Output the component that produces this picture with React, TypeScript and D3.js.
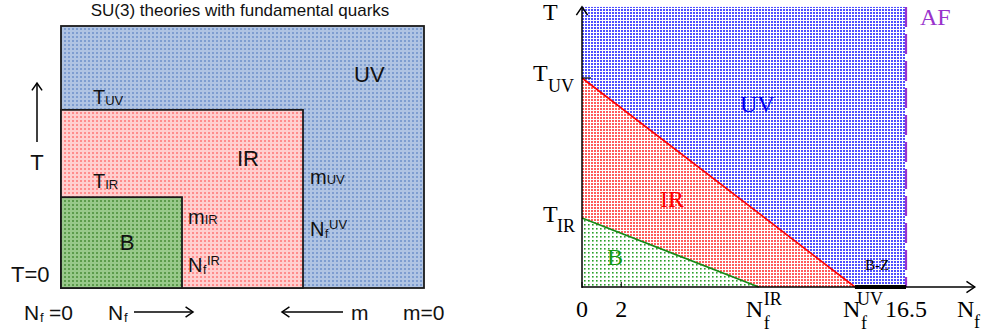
import React from 'react';
import * as d3 from 'd3';

// left schematic: nested regions (level in Nf / m direction and in T direction)
const leftRegions = ['UV', 'IR', 'B'];
const leftLevelsX = [3, 2, 1];
const leftLevelsY = [3, 2.04, 1.04];

// right phase diagram
const nfTicks = [0, 2];
const nfIR = 9;
const nfUV = 13.9;
const nfAF = 16.5;
const tUV = 1;
const tIR = 0.33;
const tTop = 1.34;
const nfEnd = 20;

const sans = '"Liberation Sans", Arial, sans-serif';
const serif = '"Liberation Serif", "Times New Roman", serif';

const leftFill: Record<string, string> = { UV: 'url(#pL-uv)', IR: 'url(#pL-ir)', B: 'url(#pL-b)' };

const Arrow = ({ x1, y1, x2, y2, size = 8 }: any) => {
    const a = Math.atan2(y2 - y1, x2 - x1);
    const p1 = [x2 - size * Math.cos(a - 0.6), y2 - size * Math.sin(a - 0.6)];
    const p2 = [x2 - size * Math.cos(a + 0.6), y2 - size * Math.sin(a + 0.6)];
    return (
        <g stroke="#000" strokeWidth={1.5} fill="none">
            <line x1={x1} y1={y1} x2={x2} y2={y2} />
            <path d={`M${p1[0]},${p1[1]}L${x2},${y2}L${p2[0]},${p2[1]}`} />
        </g>
    );
};

const App = () => {
    // left panel scales
    const xL = d3.scaleLinear().domain([0, 3]).range([61, 424]);
    const yL = d3.scaleLinear().domain([0, 3]).range([288, 26]);

    // right panel scales
    const x = d3.scaleLinear().domain([0, nfAF]).range([582, 906]);
    const y = d3.scaleLinear().domain([0, tUV]).range([287, 78]);

    const redTri = d3.line()([[x(0), y(0)], [x(0), y(tUV)], [x(nfUV), y(0)]]) + 'Z';
    const greenTri = d3.line()([[x(0), y(0)], [x(0), y(tIR)], [x(nfIR), y(0)]]) + 'Z';

    return (
        <svg width={984} height={334} style={{ position: 'absolute', left: 0, top: 0, background: '#fff' }}>
            <defs>
                <pattern id="pL-uv" width={4} height={4} patternUnits="userSpaceOnUse">
                    <rect width={4} height={4} fill="#b0c4e3" />
                    <rect width={2} height={2} fill="#7e9dd0" />
                </pattern>
                <pattern id="pL-ir" width={4} height={4} patternUnits="userSpaceOnUse">
                    <rect width={4} height={4} fill="#ffcfcf" />
                    <rect width={2} height={2} fill="#ff8c8c" />
                </pattern>
                <pattern id="pL-b" width={4} height={4} patternUnits="userSpaceOnUse">
                    <rect width={4} height={4} fill="#98c98a" />
                    <rect width={2} height={2} fill="#5c9c4c" />
                </pattern>
                <pattern id="pR-uv" width={3} height={3} patternUnits="userSpaceOnUse">
                    <rect width={3} height={3} fill="#fff" />
                    <rect width={2} height={2} fill="#4f4fff" />
                </pattern>
                <pattern id="pR-ir" width={3} height={3} patternUnits="userSpaceOnUse">
                    <rect width={3} height={3} fill="#fff" />
                    <rect width={2} height={2} fill="#ff5c5c" />
                </pattern>
                <pattern id="pR-b" width={4} height={4} patternUnits="userSpaceOnUse">
                    <rect width={4} height={4} fill="#fff" />
                    <rect width={1.6} height={1.6} fill="#2aa02a" />
                </pattern>
            </defs>

            {/* ---------- left panel ---------- */}
            <text x={240} y={16} fontFamily={sans} fontSize={17} textAnchor="middle" fill="#111">
                SU(3) theories with fundamental quarks
            </text>
            {leftRegions.map((r, i) => (
                <rect key={r} x={xL(0)} y={yL(leftLevelsY[i])}
                    width={xL(leftLevelsX[i]) - xL(0)} height={yL(0) - yL(leftLevelsY[i])}
                    fill={leftFill[r]} stroke="#1a1a1a" strokeWidth={1.8} />
            ))}
            <g fontFamily={sans} fill="#111">
                <text x={354} y={82} fontSize={22}>UV</text>
                <text x={237} y={166} fontSize={22}>IR</text>
                <text x={127} y={250} fontSize={22} textAnchor="middle">B</text>

                <text x={93} y={104} fontSize={20}>T<tspan fontSize={13} dy={1}>UV</tspan></text>
                <text x={93} y={188} fontSize={20}>T<tspan fontSize={13} dy={1}>IR</tspan></text>

                <text x={310} y={184} fontSize={20}>m<tspan fontSize={13} dy={0}>UV</tspan></text>
                <text x={310} y={236} fontSize={20}>N</text>
                <text x={325} y={238} fontSize={12}>f</text>
                <text x={329} y={229} fontSize={13}>UV</text>

                <text x={188} y={224} fontSize={20}>m<tspan fontSize={13}>IR</tspan></text>
                <text x={188} y={272} fontSize={20}>N</text>
                <text x={203} y={274} fontSize={12}>f</text>
                <text x={207} y={265} fontSize={13}>IR</text>

                <text x={11} y={282} fontSize={22}>T=0</text>
                <text x={37} y={170} fontSize={22} textAnchor="middle">T</text>

                <text x={24} y={320} fontSize={21}>N</text>
                <text x={40} y={322} fontSize={13}>f</text>
                <text x={49} y={320} fontSize={21}>=0</text>
                <text x={108} y={320} fontSize={21}>N</text>
                <text x={124} y={322} fontSize={13}>f</text>
                <text x={351} y={320} fontSize={21}>m</text>
                <text x={403} y={320} fontSize={21}>m=0</text>
            </g>
            <Arrow x1={37} y1={142} x2={37} y2={83} size={9} />
            <Arrow x1={134} y1={312} x2={193} y2={312} size={9} />
            <Arrow x1={343} y1={312} x2={282} y2={312} size={9} />

            {/* ---------- right panel ---------- */}
            <rect x={x(0)} y={y(tTop)} width={x(nfAF) - x(0)} height={y(0) - y(tTop)} fill="url(#pR-uv)" />
            <path d={redTri} fill="url(#pR-ir)" />
            <path d={greenTri} fill="url(#pR-b)" />
            <line x1={x(0)} y1={y(tUV)} x2={x(nfUV)} y2={y(0)} stroke="#ff0000" strokeWidth={1.6} />
            <line x1={x(0)} y1={y(tIR)} x2={x(nfIR)} y2={y(0)} stroke="#168a16" strokeWidth={1.8} />
            <line x1={x(nfAF)} y1={y(tTop)} x2={x(nfAF)} y2={y(0)}
                stroke="#9933cc" strokeWidth={2.2} strokeDasharray="20,7" />
            <line x1={x(nfUV)} y1={y(0)} x2={x(nfAF)} y2={y(0)} stroke="#000" strokeWidth={4} />

            <Arrow x1={x(0)} y1={y(0)} x2={x(nfEnd)} y2={y(0)} size={10} />
            <Arrow x1={x(0)} y1={y(0) + 1} x2={x(0)} y2={y(tTop)} size={10} />
            <line x1={x(0)} y1={y(tUV)} x2={x(0) + 9} y2={y(tUV)} stroke="#000" strokeWidth={1.2} />
            {nfTicks.map(t => (
                <line key={t} x1={x(t)} y1={y(0)} x2={x(t)} y2={y(0) - 5} stroke="#000" strokeWidth={1} />
            ))}

            <g fontFamily={serif}>
                {nfTicks.map(t => (
                    <text key={t} x={x(t)} y={317} fontSize={24} textAnchor="middle">{t}</text>
                ))}
                <text x={x(nfAF)} y={317} fontSize={24} textAnchor="middle">16.5</text>

                <text x={x(nfIR) - 13} y={317} fontSize={24}>N</text>
                <text x={x(nfIR) + 5} y={329} fontSize={18}>f</text>
                <text x={x(nfIR) + 5} y={305} fontSize={18}>IR</text>

                <text x={x(nfUV) - 12} y={317} fontSize={24}>N</text>
                <text x={x(nfUV) + 6} y={329} fontSize={18}>f</text>
                <text x={x(nfUV) + 2} y={305} fontSize={18}>UV</text>

                <text x={957} y={317} fontSize={24}>N</text>
                <text x={974} y={328} fontSize={18}>f</text>

                <text x={543} y={20} fontSize={24}>T</text>
                <text x={533} y={81} fontSize={24}>T</text>
                <text x={548} y={92} fontSize={18}>UV</text>
                <text x={543} y={222} fontSize={24}>T</text>
                <text x={557} y={232} fontSize={18}>IR</text>

                <text x={920} y={25} fontSize={24} fill="#9933cc">AF</text>
                <text x={740} y={112} fontSize={24} fill="#0000ee">UV</text>
                <text x={660} y={207} fontSize={24} fill="#ff0000">IR</text>
                <text x={607} y={265} fontSize={24} fill="#119911">B</text>
                <text x={865} y={270} fontSize={15} fill="#000">B-Z</text>
            </g>
        </svg>
    );
};

export default App;
